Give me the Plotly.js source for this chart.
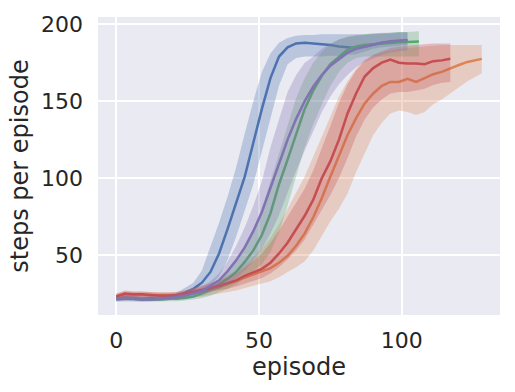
<!DOCTYPE html>
<html>
<head>
<meta charset="utf-8">
<script src="https://cdn.plot.ly/plotly-3.0.1.min.js"></script>
<style>html,body{margin:0;padding:0;background:#fff;}#chart{width:515px;height:392px;}</style>
</head>
<body>
<div id="chart"></div>
<script>
// ---- data ----
var blueX = [0,3,6,9,12,15,18,21,24,27,30,33,36,39,42,45,48,51,54,57,60,63,66,69,72,75,78,81,84,87,90,93,96,99,102];
var blueMean = [22,22.5,22,21.5,22,21.5,22,23.5,25.5,28,32,39,51,67,84,101,123,145,165,179,185,187.5,188,187.5,187,186.5,185.5,185,184.5,185.5,187,188,188.5,189,189.5];
var blueHi = [23.5,24,23.5,23,23.5,23,23.5,25.5,28.5,32,40,55,71,88,107,129,150,169,181,188,191,192.5,193,193,193.5,193.5,193.5,193.5,193.5,193.5,194,194,194.5,195,195];
var blueLo = [20.5,21,20.5,20,20.5,20,20.5,21.5,23,24.5,26.5,30,36,47,62,79,96,117,139,160,174,178,179,179,179,179.5,179.5,180,180.5,182,184,185,185.5,186,186.5];

var orangeX = [0,3,6,9,12,15,18,21,24,27,30,33,36,39,42,45,48,51,54,57,60,63,66,69,72,75,78,81,84,87,90,93,96,99,102,105,108,111,114,117,120,123,126,128];
var orangeMean = [23,24,24,24,24,24,24,24,24.5,25.5,26.5,27.5,29,31,33,35,37,39.5,41.5,45,49.5,56,64,74.5,87,101,115,128,139,148.5,155,160,162.5,162.5,164.5,162.5,165,167.5,169,171.5,173.5,175.5,177,177.5];
var orangeHi = [25,26,26,26,26,26,26,26,27,28.5,30,32,34,37,40,44,49,54,61,70,80,91,101,114,127,141,153,163,171,177,180,182,183,184,184.5,185,185.5,186,186.5,186.5,186.5,186.5,186.5,186.5];
var orangeLo = [21,22,22,22,22,22,22,22,22,22.5,23,24,25,26,27,28.5,30,31.5,33,35.5,39,42,46,53,62,72,80,90,104,116,128,136,142,144,143,141,143,148,151,155,159,163,166,168];

var greenX = [0,3,6,9,12,15,18,21,24,27,30,33,36,39,42,45,48,51,54,57,60,63,66,69,72,75,78,81,84,87,90,93,96,99,102,105,106];
var greenMean = [21.5,21.5,21.5,21,21,21,21.5,21.5,22,23,25,27.5,31,34.5,39,45.5,53,63,77,96,112,128,145,157,166.5,174,179,183.5,185.5,186.5,187,187.5,188,188.3,188.5,188.7,188.7];
var greenHi = [23,23,23,22.5,22.5,22.5,23,23,24,25.5,27,30,34,39,46,55,66,80,98,116,135,152,165,175,182,187,190,192,193,193.5,194,194.5,194.5,195,195,195.5,195.5];
var greenLo = [20,20,20,19.8,19.8,19.8,20,20,20.5,21,22,23.5,25.5,28,31,35,39.5,44,52,65,82,101,120,135,148,160,169,175,178,179,179,179,179,179,179,179,179];

var redX = [0,3,6,9,12,15,18,21,24,27,30,33,36,39,42,45,48,51,54,57,60,63,66,69,72,75,78,81,84,87,90,93,96,99,102,105,108,111,114,117];
var redMean = [23,25,24.5,24.5,24,23.5,23.5,24,25,26,27.5,28.5,30,31.5,33.5,36.5,38.5,41,45,51,58,66.5,75.5,86,100,111,125,142,155,166,171.5,175,177,175,174.5,174.5,174,176,176.5,177.5];
var redHi = [25,27,26.5,26.5,26,25.5,25.5,26,27,28.5,30,31.5,33.5,35.5,38,42,46,51,58,66,75,84,93,105,119,134,149,161,170,176,180,182.5,184.5,185.5,186,186.5,187,187.5,187.5,187.5];
var redLo = [21,23,22.5,22.5,22,21.5,21.5,22,23,24,25,26,27,28,29.5,31.5,33,35,38,42,47,53,60,69,79,89,100,113,127,138,146,151,155,156,156,157,158,160.5,162,162.5];

var purpleX = [0,3,6,9,12,15,18,21,24,27,30,33,36,39,42,45,48,51,54,57,60,63,66,69,72,75,78,81,84,87,90,93,96,99,102];
var purpleMean = [21,21.5,21.5,21,21,21.5,22,22.5,23.5,25,26.5,30,33.5,39.5,46.5,55,65.5,78,93.5,108.5,125,138.5,150,159.5,167,173,177.5,181.5,184,185.5,187,188,189,189.5,189.8];
var purpleHi = [23,23.5,23.5,23,23,23.5,24,24.5,25.5,27,29,33,38,46,56,68,82,98,120,138,156,167,175,179,184,187.5,190,191.5,192.5,193,193.5,194,194,194.5,194.5];
var purpleLo = [19.8,20,20,19.8,19.8,20,20.5,21,21.5,22.5,23.5,25.5,28,31,35,40,46,54,64,76,90,105,118,131,143,153,161,167,172,175.5,178,180,181.5,182.5,183];

var names = ['blue','orange','green','red','purple'];
var colors = ['#4C72B0','#DD8452','#55A868','#C44E52','#8172B3'];
var fills = ['rgba(76,114,176,0.3)','rgba(221,132,82,0.3)','rgba(85,168,104,0.3)','rgba(196,78,82,0.3)','rgba(129,114,179,0.3)'];
var series = [
  [blueX, blueMean, blueLo, blueHi],
  [orangeX, orangeMean, orangeLo, orangeHi],
  [greenX, greenMean, greenLo, greenHi],
  [redX, redMean, redLo, redHi],
  [purpleX, purpleMean, purpleLo, purpleHi]
];

var traces = [];
series.forEach(function(s, i){
  var xs = s[0], m = s[1], lo = s[2], hi = s[3];
  var px = xs.concat(xs.slice().reverse());
  var py = hi.concat(lo.slice().reverse());
  traces.push({x:px, y:py, type:'scatter', mode:'lines', fill:'toself', fillcolor:fills[i],
    line:{width:0, color:fills[i]}, hoverinfo:'skip', showlegend:false});
  traces.push({x:xs, y:m, type:'scatter', mode:'lines', name:names[i],
    line:{color:colors[i], width:2.5}, showlegend:false});
});

var font = {family:'DejaVu Sans, sans-serif', color:'#262626'};
var layout = {
  width:515, height:392,
  margin:{l:98, r:15, t:17, b:77, pad:0},
  paper_bgcolor:'#ffffff', plot_bgcolor:'#EAEAF2',
  showlegend:false,
  xaxis:{range:[-6.4,134.4], tickvals:[0,50,100], ticktext:['0','50','100'],
    showgrid:true, gridcolor:'#ffffff', gridwidth:2, zeroline:false, showline:false,
    ticks:'', ticklabelstandoff:10, tickfont:{family:font.family, color:font.color, size:22},
    title:{text:'episode', font:{family:font.family, color:font.color, size:24}, standoff:2},
    automargin:false},
  yaxis:{range:[11,204.7], tickvals:[50,100,150,200], ticktext:['50','100','150','200'],
    showgrid:true, gridcolor:'#ffffff', gridwidth:2, zeroline:false, showline:false,
    ticks:'', ticklabelstandoff:14, tickfont:{family:font.family, color:font.color, size:22},
    title:{text:'steps per episode', font:{family:font.family, color:font.color, size:24}, standoff:5},
    automargin:false},
  font:font
};

Plotly.newPlot('chart', traces, layout, {staticPlot:true, displayModeBar:false});
</script>
</body>
</html>
